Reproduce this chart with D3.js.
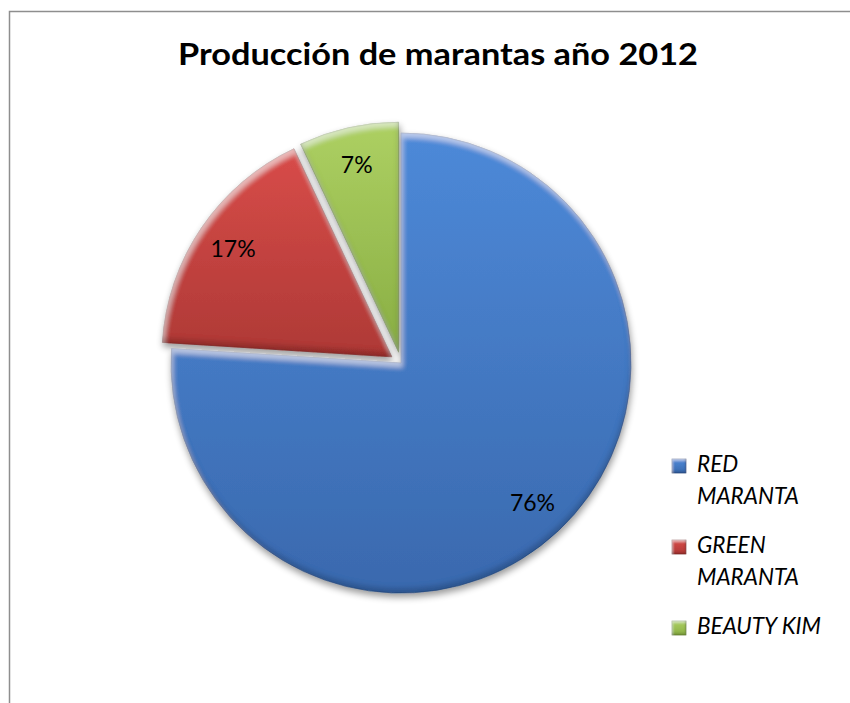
<!DOCTYPE html>
<html>
<head>
<meta charset="utf-8">
<script src="https://cdn.jsdelivr.net/npm/d3@7"></script>
<style>
  html, body { margin: 0; padding: 0; background: #fff; }
  svg { display: block; }
  text { font-family: Lato, "Open Sans", "Liberation Sans", sans-serif; }
</style>
</head>
<body>
<svg id="chart" width="850" height="703"></svg>
<script>
// Production shares by variety
const categories = ["RED MARANTA", "GREEN MARANTA", "BEAUTY KIM"];
const values = [76, 17, 7];
const titleText = "Producción de marantas año 2012";

// Styling
const palette = [
  { top: "#4D89D8", bottom: "#3A69AE", edge: "#2C528C" },
  { top: "#D84C49", bottom: "#AE3936", edge: "#8A2A28" },
  { top: "#ADD062", bottom: "#89AE44", edge: "#6C8A30" }
];
const explode = [0, 11, 11];
const cx = 401, cy = 363, radius = 230;

const svg = d3.select("#chart");
const defs = svg.append("defs");

// vertical shading for each slice colour
palette.forEach((c, i) => {
  const g = defs.append("linearGradient")
    .attr("id", "grad" + i)
    .attr("x1", 0).attr("y1", 0).attr("x2", 0).attr("y2", 1);
  g.append("stop").attr("offset", "0%").attr("stop-color", c.top);
  g.append("stop").attr("offset", "100%").attr("stop-color", c.bottom);
});

// soft bevel: light rim along upper edges, dark rim along lower edges
function bevelFilter(id, blur, dist, hi, lo) {
  const f = defs.append("filter").attr("id", id)
    .attr("x", "-10%").attr("y", "-10%").attr("width", "120%").attr("height", "120%");
  f.append("feGaussianBlur").attr("in", "SourceAlpha").attr("stdDeviation", blur).attr("result", "b");
  f.append("feOffset").attr("in", "b").attr("dx", dist * 0.3).attr("dy", dist).attr("result", "bDown");
  f.append("feComposite").attr("in", "SourceAlpha").attr("in2", "bDown").attr("operator", "out").attr("result", "topEdge");
  f.append("feFlood").attr("flood-color", "#ffffff").attr("flood-opacity", hi).attr("result", "white");
  f.append("feComposite").attr("in", "white").attr("in2", "topEdge").attr("operator", "in").attr("result", "hl");
  f.append("feOffset").attr("in", "b").attr("dx", -dist * 0.3).attr("dy", -dist).attr("result", "bUp");
  f.append("feComposite").attr("in", "SourceAlpha").attr("in2", "bUp").attr("operator", "out").attr("result", "botEdge");
  f.append("feFlood").attr("flood-color", "#000000").attr("flood-opacity", lo).attr("result", "black");
  f.append("feComposite").attr("in", "black").attr("in2", "botEdge").attr("operator", "in").attr("result", "sh");
  const m = f.append("feMerge");
  m.append("feMergeNode").attr("in", "SourceGraphic");
  m.append("feMergeNode").attr("in", "hl");
  m.append("feMergeNode").attr("in", "sh");
}
bevelFilter("bevel", 2.5, 5, 0.45, 0.35);
bevelFilter("bevelSmall", 1, 2, 0.45, 0.35);

// drop shadow under the whole pie
const ds = defs.append("filter").attr("id", "shadow")
  .attr("x", "-10%").attr("y", "-10%").attr("width", "125%").attr("height", "125%");
ds.append("feGaussianBlur").attr("in", "SourceAlpha").attr("stdDeviation", 3.5).attr("result", "sb");
ds.append("feOffset").attr("in", "sb").attr("dx", 1).attr("dy", 4).attr("result", "so");
ds.append("feComponentTransfer").attr("in", "so").attr("result", "sf")
  .append("feFuncA").attr("type", "linear").attr("slope", 0.4);
const dm = ds.append("feMerge");
dm.append("feMergeNode").attr("in", "sf");
dm.append("feMergeNode").attr("in", "SourceGraphic");

// chart frame
svg.append("rect")
  .attr("x", 9.5).attr("y", 11.5)
  .attr("width", 900).attr("height", 800)
  .attr("fill", "none").attr("stroke", "#8e8e8e").attr("stroke-width", 1.5);

// title
const title = svg.append("text")
  .attr("x", 438).attr("y", 65)
  .attr("text-anchor", "middle")
  .attr("font-size", 30).attr("font-weight", 700)
  .attr("fill", "#000")
  .text(titleText);
const tw = title.node().getComputedTextLength();
if (Math.abs(tw - 520) > 4) title.attr("textLength", 520).attr("lengthAdjust", "spacingAndGlyphs");

// pie
const pie = d3.pie().sort(null).value(d => d);
const arcs = pie(values);
const arc = d3.arc().innerRadius(0).outerRadius(radius);
const labelArc = d3.arc().innerRadius(radius * 0.835).outerRadius(radius * 0.835);

const pieG = svg.append("g")
  .attr("transform", `translate(${cx},${cy})`)
  .attr("filter", "url(#shadow)");

const slices = pieG.selectAll("g.slice")
  .data(arcs)
  .join("g")
  .attr("class", "slice")
  .attr("transform", (d, i) => {
    const mid = (d.startAngle + d.endAngle) / 2;
    return `translate(${explode[i] * Math.sin(mid)},${-explode[i] * Math.cos(mid)})`;
  });

slices.append("path")
  .attr("d", arc)
  .attr("fill", (d, i) => `url(#grad${i})`)
  .attr("stroke", (d, i) => palette[i].edge)
  .attr("stroke-width", 0.6)
  .attr("filter", "url(#bevel)");

// percentage labels
const labelG = svg.append("g").attr("transform", `translate(${cx},${cy})`);
labelG.selectAll("text")
  .data(arcs)
  .join("text")
  .attr("transform", (d, i) => {
    const mid = (d.startAngle + d.endAngle) / 2;
    const [x, y] = labelArc.centroid(d);
    return `translate(${x + explode[i] * Math.sin(mid)},${y - explode[i] * Math.cos(mid)})`;
  })
  .attr("text-anchor", "middle")
  .attr("dy", "0.36em")
  .attr("font-size", 23)
  .attr("fill", "#000")
  .text(d => d.data + "%");

// legend
const legend = svg.append("g");
const lineH = 32, entryGap = 49, maxW = 140, legendFont = 22.5;
let y = 472;
categories.forEach((name, i) => {
  const g = legend.append("g");
  g.append("rect")
    .attr("x", 672).attr("y", y - 13)
    .attr("width", 14).attr("height", 14)
    .attr("fill", `url(#grad${i})`)
    .attr("stroke", palette[i].edge).attr("stroke-width", 0.6)
    .attr("filter", "url(#bevelSmall)");
  // word-wrap the entry name to the legend width
  const words = name.split(" ");
  let line = [];
  let t = g.append("text").attr("x", 697).attr("y", y)
    .attr("font-size", legendFont).attr("font-style", "italic").attr("fill", "#000");
  words.forEach(w => {
    line.push(w);
    t.text(line.join(" "));
    if (t.node().getComputedTextLength() > maxW && line.length > 1) {
      line.pop();
      t.text(line.join(" "));
      line = [w];
      y += lineH;
      t = g.append("text").attr("x", 697).attr("y", y)
        .attr("font-size", legendFont).attr("font-style", "italic").attr("fill", "#000")
        .text(w);
    }
  });
  y += entryGap;
});
</script>
</body>
</html>
